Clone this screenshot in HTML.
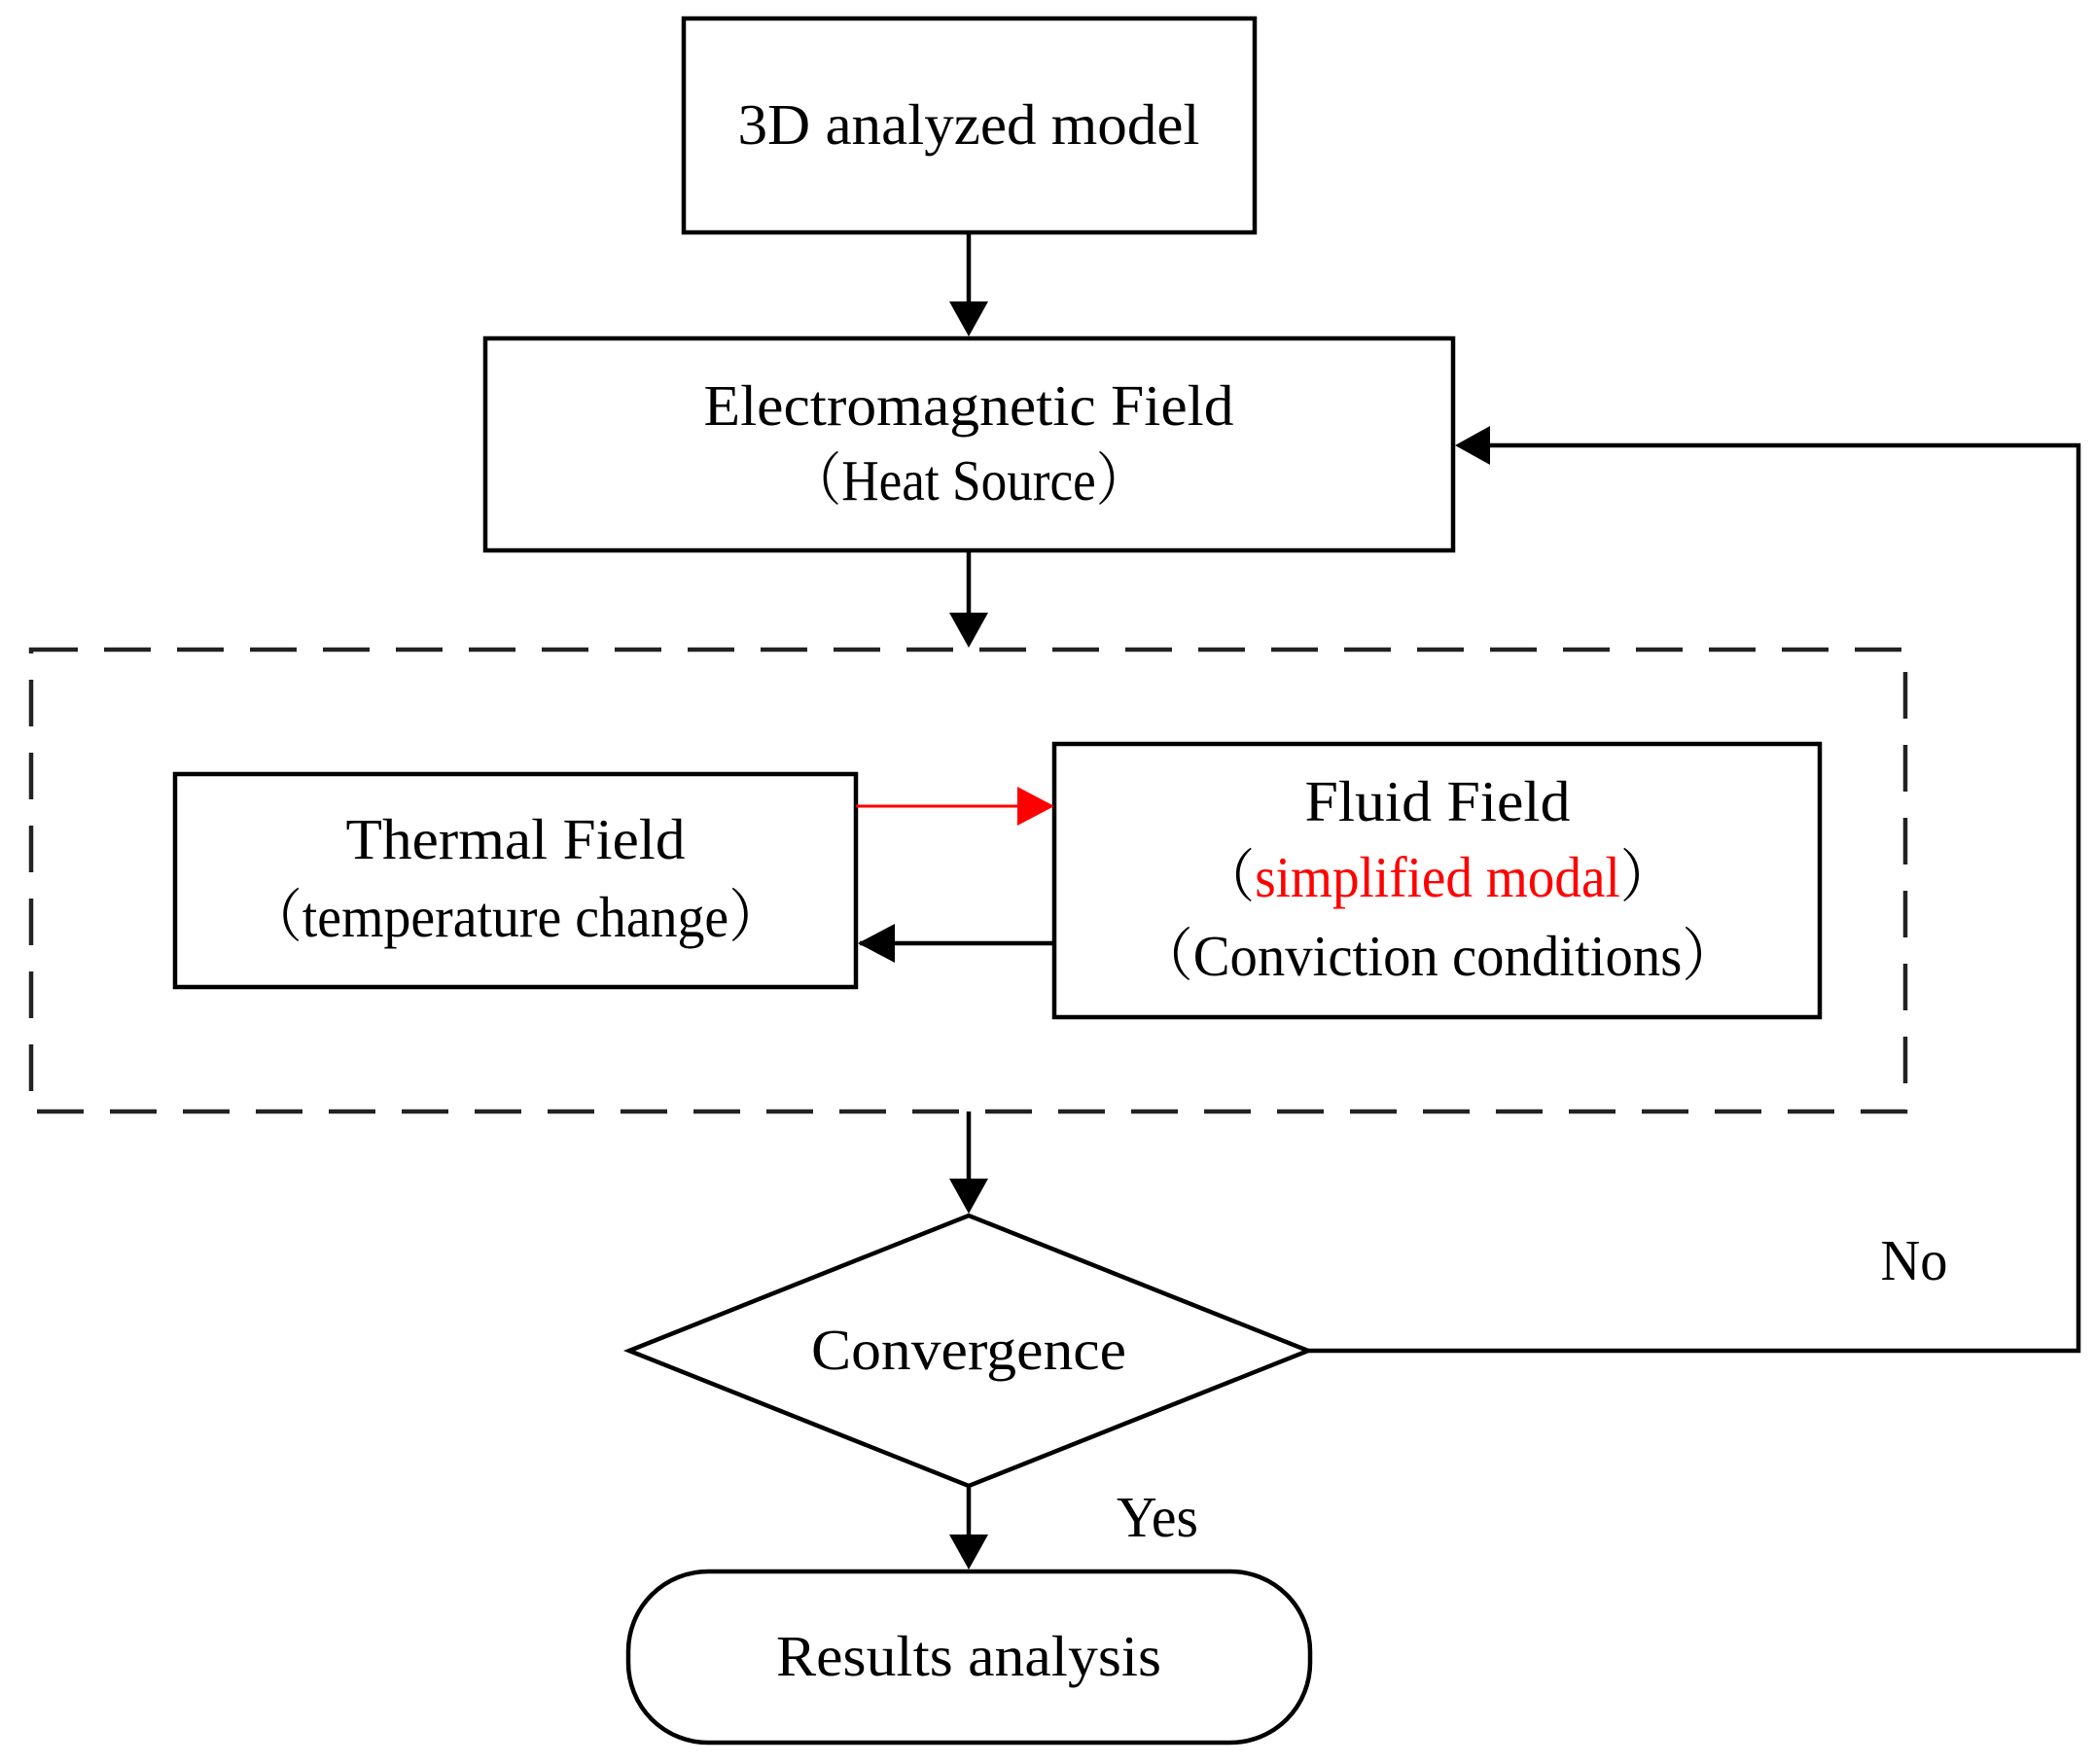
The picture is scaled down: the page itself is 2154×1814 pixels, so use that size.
<!DOCTYPE html>
<html><head><meta charset="utf-8"><style>html,body{margin:0;padding:0;background:#fff}svg{display:block}</style></head>
<body>
<svg width="2154" height="1814" viewBox="0 0 2154 1814" xmlns="http://www.w3.org/2000/svg" font-family="'Liberation Serif','Noto Serif CJK SC',serif" font-size="59">
<g fill="none" stroke="#000" stroke-width="4.5">
<rect x="703" y="19" width="587" height="220"/>
<rect x="499" y="348" width="995" height="218"/>
<rect x="32" y="668" width="1927" height="475" stroke="#222" stroke-dasharray="48 27"/>
<rect x="180" y="796" width="700" height="219"/>
<rect x="1084" y="765" width="787" height="281"/>
<polygon points="647,1389 996,1250 1345,1389 996,1528"/>
<rect x="646" y="1616" width="701" height="176" rx="82" ry="82"/>
<line x1="996" y1="239" x2="996" y2="312"/>
<line x1="996" y1="566" x2="996" y2="632"/>
<line x1="996" y1="1143" x2="996" y2="1214"/>
<line x1="996" y1="1528" x2="996" y2="1580"/>
<line x1="884" y1="970" x2="1084" y2="970"/>
<polyline points="1345,1389 2137,1389 2137,458 1530,458"/>
<line x1="880" y1="829" x2="1048" y2="829" stroke="#f00" stroke-width="3"/>
</g>
<g fill="#000">
<polygon points="976,310 1016,310 996,346"/>
<polygon points="976,630 1016,630 996,666"/>
<polygon points="976,1212 1016,1212 996,1248"/>
<polygon points="976,1578 1016,1578 996,1614"/>
<polygon points="1496,458 1532,438 1532,478"/>
<polygon points="882,970 920,950 920,990"/>
<polygon points="1084,829 1046,809 1046,849" fill="#f00"/>
</g>
<g fill="#000" text-anchor="middle">
<text x="996" y="148" textLength="475" lengthAdjust="spacingAndGlyphs">3D analyzed model</text>
<text x="996" y="437" textLength="545" lengthAdjust="spacingAndGlyphs">Electromagnetic Field</text>
<text x="996" y="514" textLength="368" lengthAdjust="spacingAndGlyphs">（Heat Source）</text>
<text x="530" y="883" textLength="349" lengthAdjust="spacingAndGlyphs">Thermal Field</text>
<text x="530" y="963" textLength="550" lengthAdjust="spacingAndGlyphs">（temperature change）</text>
<text x="1478" y="844" textLength="273" lengthAdjust="spacingAndGlyphs">Fluid Field</text>
<text x="1478" y="922" textLength="486" lengthAdjust="spacingAndGlyphs">（<tspan fill="#f00">simplified modal</tspan>）</text>
<text x="1478" y="1003" textLength="616" lengthAdjust="spacingAndGlyphs">（Conviction conditions）</text>
<text x="996" y="1408" textLength="324" lengthAdjust="spacingAndGlyphs">Convergence</text>
<text x="996" y="1723" textLength="396" lengthAdjust="spacingAndGlyphs">Results analysis</text>
<text x="1968" y="1316" textLength="69" lengthAdjust="spacingAndGlyphs">No</text>
<text x="1190" y="1580" textLength="84" lengthAdjust="spacingAndGlyphs">Yes</text>
</g>
</svg>
</body></html>
